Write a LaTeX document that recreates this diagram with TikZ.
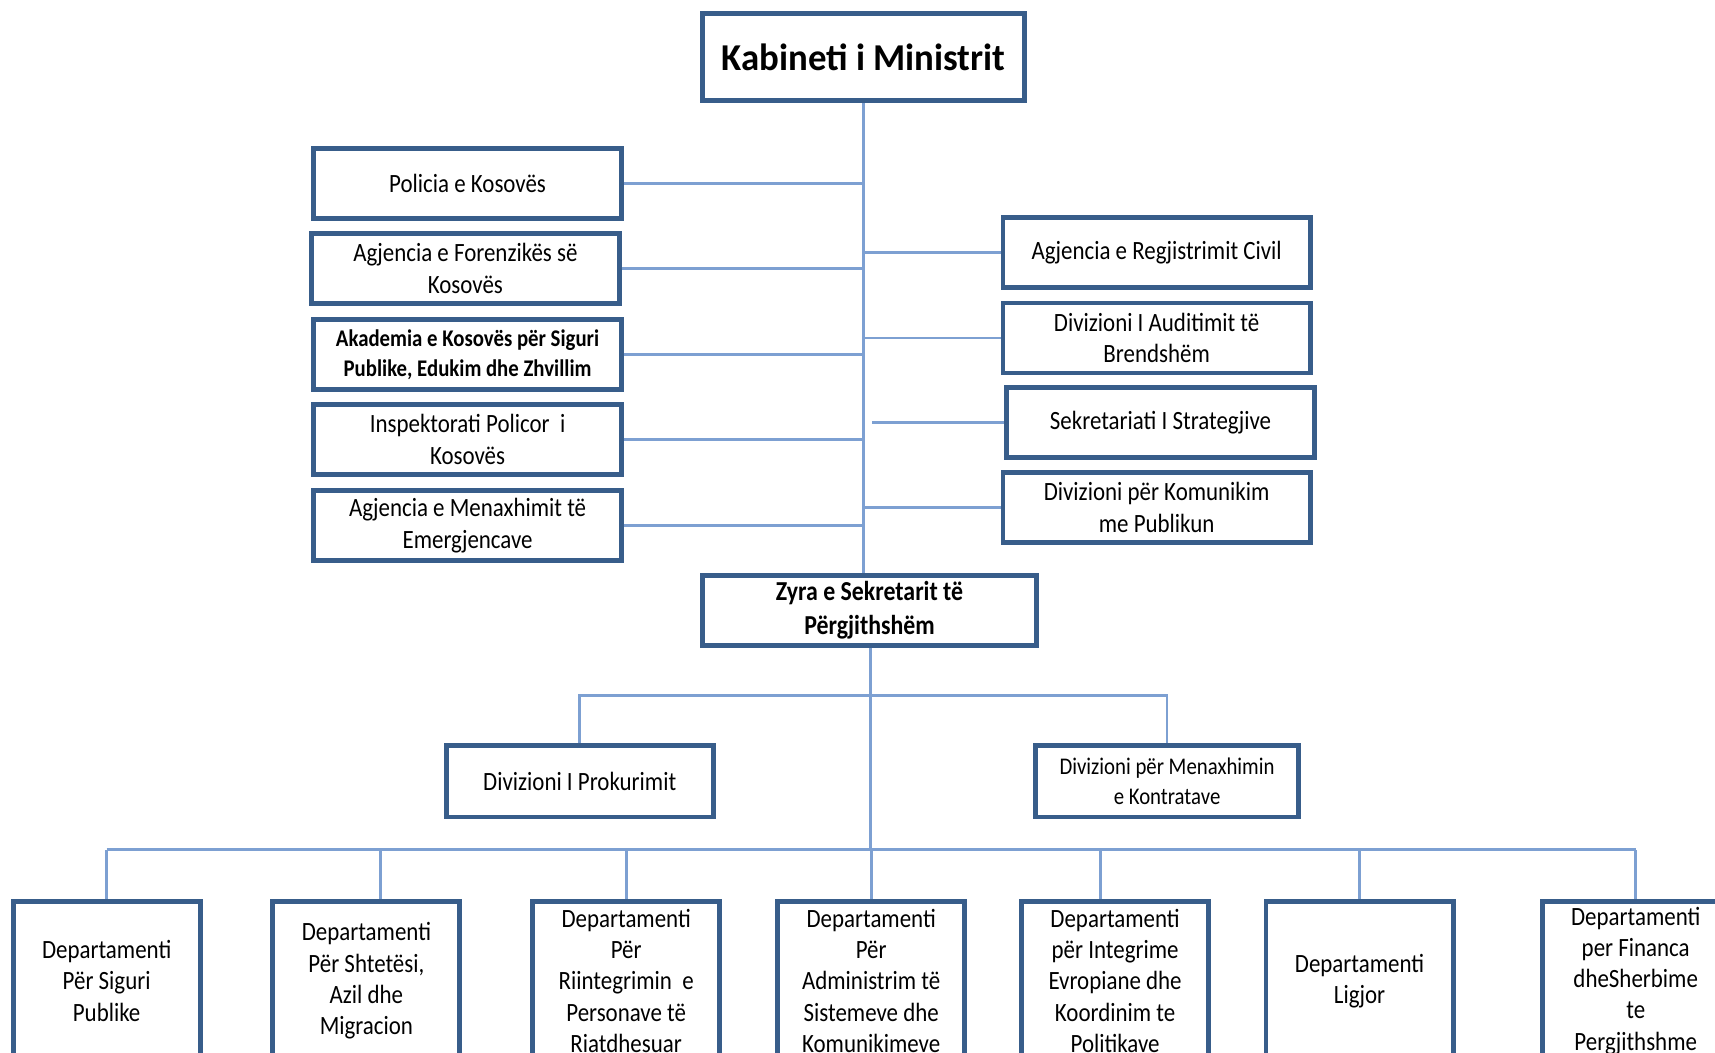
\documentclass[tikz,border=0pt]{standalone}
\usepackage{fontspec}
\setmainfont{Carlito}[FakeStretch=0.87]
\newfontfamily\headfont{Carlito}[FakeStretch=0.97]
\definecolor{boxblue}{RGB}{56,93,138}
\definecolor{lineblue}{RGB}{125,160,210}

\tikzset{
  unit/.style={draw=boxblue, line width=1.4pt, fill=white, align=center,
    inner sep=1pt, font=\fontsize{7.5}{9}\selectfont},
  side/.style={unit, minimum width=281*0.010938cm, minimum height=64*0.010938cm},
  dept/.style={unit, anchor=north, inner sep=0pt, font=\fontsize{7.5}{8.9}\selectfont,
    minimum width=171*0.010938cm, minimum height=145*0.010938cm},
  link/.style={draw=lineblue, line width=0.8pt},
}

\begin{document}
\begin{tikzpicture}[x=0.010938cm, y=-0.010938cm]
    \useasboundingbox (0,0) rectangle (1568,962);
    \clip (0,0) rectangle (1568,962);

    % top
    \node[unit, minimum width=295*0.010938cm, minimum height=80*0.010938cm] (cab) at (789.5,52)
        {\headfont\bfseries\fontsize{10.8}{13}\selectfont Kabineti i Ministrit};

    % left column
    \node[side] (pol) at (427.5,168) {Policia e Kosovës};
    \node[side] (for) at (425.5,245.5) {Agjencia e Forenzikës së\\Kosovës};
    \node[side, font=\bfseries\fontsize{6.8}{8.5}\selectfont] (aka) at (427.5,324) {Akademia e Kosovës për Siguri\\Publike, Edukim dhe Zhvillim};
    \node[side] (ins) at (427.5,402) {Inspektorati Policor\ \ i\\Kosovës};
    \node[side] (eme) at (427.5,480.5) {Agjencia e Menaxhimit të\\Emergjencave};

    % right column
    \node[side] (reg) at (1057.5,231) {Agjencia e Regjistrimit Civil};
    \node[side] (aud) at (1057.5,309) {Divizioni I Auditimit të\\Brendshëm};
    \node[side] (sek) at (1061,386.5) {Sekretariati I Strategjive};
    \node[side] (kom) at (1057.5,464) {Divizioni për Komunikim\\me Publikun};

    \node[unit, minimum width=306*0.010938cm, minimum height=64*0.010938cm,
        font=\bfseries\fontsize{7.8}{9.5}\selectfont] (zyra) at (795,558) {Zyra e Sekretarit të\\Përgjithshëm};

    \node[unit, minimum width=244*0.010938cm, minimum height=65*0.010938cm] (prok) at (530,714.5) {Divizioni I Prokurimit};
    \node[unit, minimum width=240*0.010938cm, minimum height=65*0.010938cm,
        font=\fontsize{6.8}{8.5}\selectfont] (kont) at (1067,714.5) {Divizioni për Menaxhimin\\e Kontratave};

    % departments
    \node[dept] (d1) at (97.5,822) {Departamenti\\Për Siguri\\Publike};
    \node[dept] (d2) at (335,822) {Departamenti\\Për Shtetësi,\\Azil dhe\\Migracion};
    \node[dept] (d3) at (572.5,822) {Departamenti\\Për\\Riintegrimin\ \ e\\Personave të\\Riatdhesuar};
    \node[dept] (d4) at (796.5,822) {Departamenti\\Për\\Administrim të\\Sistemeve dhe\\Komunikimeve};
    \node[dept] (d5) at (1019.5,822) {Departamenti\\për Integrime\\Evropiane dhe\\Koordinim te\\Politikave};
    \node[dept] (d6) at (1243,822) {Departamenti\\Ligjor};
    \node[dept] (d7) at (1495.5,822) {Departamenti\\per Financa\\dheSherbime\\te\\Pergjithshme};

    % connectors
    \coordinate (gap) at (797,0);
    \coordinate (hub) at (796,636);
    \coordinate (low) at (796,777);

    \draw[link] (cab.south) -- (zyra.north -| cab.south);
    \foreach \n in {pol,for,aka,ins,eme}
        \draw[link] (\n.east) -- (\n.east -| cab.south);
    \foreach \n in {reg,aud,kom}
        \draw[link] (\n.west) -- (\n.west -| cab.south);
    \draw[link] (sek.west) -- (sek.west -| gap);

    \draw[link] (zyra.south -| hub) -- (hub) -- (low);
    \draw[link] (prok.north) |- (hub) -| (kont.north);
    \draw[link] (low -| d1.north) -- (low -| d7.north);
    \foreach \d/\s in {d1/0,d2/13,d3/0,d4/0,d5/-13,d6/0,d7/0}
        \draw[link] ([xshift=\s*0.010938cm]\d.north) -- ++(0,-45);
\end{tikzpicture}
\end{document}
